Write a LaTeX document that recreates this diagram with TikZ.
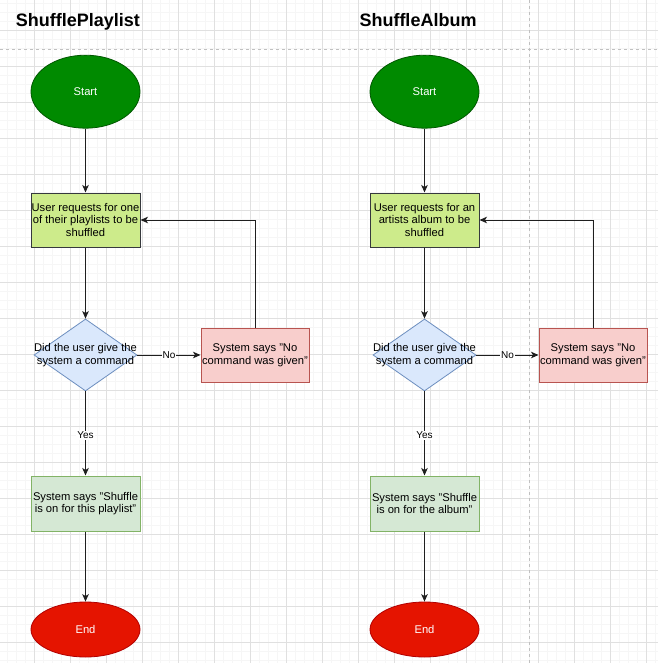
\documentclass[tikz,border=0pt]{standalone}
\usepackage{fontspec}
\setmainfont{Liberation Sans}
\usetikzlibrary{shapes.geometric,arrows.meta}
\definecolor{gridmaj}{HTML}{E0E0E0}
\definecolor{gridmin}{HTML}{F6F6F6}
\definecolor{startfill}{HTML}{008A00}
\definecolor{startline}{HTML}{005700}
\definecolor{endfill}{HTML}{E51400}
\definecolor{endline}{HTML}{B20000}
\definecolor{reqfill}{HTML}{CDEB8B}
\definecolor{reqline}{HTML}{36393D}
\definecolor{decfill}{HTML}{DAE8FC}
\definecolor{decline}{HTML}{6C8EBF}
\definecolor{nofill}{HTML}{F8CECC}
\definecolor{noline}{HTML}{B85450}
\definecolor{okfill}{HTML}{D5E8D4}
\definecolor{okline}{HTML}{82B366}
\definecolor{edgecol}{HTML}{1E1E1E}
\definecolor{dashcol}{HTML}{C0C0C0}
\tikzset{
  boxfont/.style={font=\fontsize{11.2}{12.7}\selectfont},
  startnode/.style={ellipse, fill=startfill, draw=startline, line width=0.8pt,
    minimum width=109pt, minimum height=73pt, inner sep=0pt, text=white, boxfont},
  endnode/.style={ellipse, fill=endfill, draw=endline, line width=0.8pt,
    minimum width=109pt, minimum height=55pt, inner sep=0pt, text=white, boxfont},
  reqbox/.style={rectangle, fill=reqfill, draw=reqline, line width=1pt,
    minimum width=109pt, minimum height=54pt, inner sep=0pt, align=center, boxfont},
  nobox/.style={rectangle, fill=nofill, draw=noline, line width=1pt,
    minimum width=108pt, minimum height=54pt, inner sep=0pt, align=center, boxfont},
  okbox/.style={rectangle, fill=okfill, draw=okline, line width=1pt,
    minimum width=109pt, minimum height=55pt, inner sep=0pt, align=center, boxfont},
  decision/.style={diamond, fill=decfill, draw=decline, line width=0.8pt,
    minimum width=103pt, minimum height=72pt, inner sep=0pt},
  dectext/.style={align=center, inner sep=0pt, boxfont},
  flow/.style={draw=edgecol, line width=1pt, -{Stealth[length=7.5pt,width=6.5pt,inset=2pt]}},
  edgelabel/.style={fill=white, inner sep=1pt, font=\fontsize{10}{12}\selectfont},
  titletext/.style={font=\fontsize{18}{21}\selectfont\bfseries, anchor=base west, inner sep=0pt},
  minorline/.style={draw=gridmin, line width=0.8pt},
  majorline/.style={draw=gridmaj, line width=0.8pt},
  sepline/.style={draw=dashcol, line width=0.9pt, dash pattern=on 3pt off 3pt}
}
\begin{document}
\begin{tikzpicture}[x=1pt,y=-1pt]
\useasboundingbox (0,0) rectangle (658,663);
\fill[white] (0,0) rectangle (658,663);
% grid
\begin{scope}
\clip (0,0) rectangle (658,663);
\foreach \k in {0,...,74} {
  \draw[minorline] ({-1.7+9*\k},0) -- ({-1.7+9*\k},663);
}
\foreach \k in {0,...,75} {
  \draw[minorline] (0,{-5.3+9*\k}) -- (658,{-5.3+9*\k});
}
\foreach \k in {0,...,19} {
  \draw[majorline] ({-1.7+36*\k},0) -- ({-1.7+36*\k},663);
}
\foreach \k in {0,...,19} {
  \draw[majorline] (0,{-5.3+36*\k}) -- (658,{-5.3+36*\k});
}
\end{scope}
% separators
\draw[sepline] (0,49.3) -- (658,49.3);
\draw[sepline] (529.3,0) -- (529.3,663);

% titles
\node[titletext] (t1) at (15.7,26.7) {ShufflePlaylist};
\node[titletext] (t2) at (359.3,26.7) {ShuffleAlbum};

% left flow
\node[startnode] (s1) at (85.5,91.7) {Start};
\node[reqbox] (r1) at (85.5,220) {User requests for one\\of their playlists to be\\shuffled};
\node[decision] (d1) at (85.5,355) {};
\node[dectext] (d1t) at (85.5,355) {Did the user give the\\system a command};
\node[nobox] (n1) at (255,355) {System says "No\\command was given"};
\node[okbox] (o1) at (85.5,503.5) {System says "Shuffle\\is on for this playlist"};
\node[endnode] (e1) at (85.5,629.5) {End};

\draw[flow] (s1) -- (r1);
\draw[flow] (r1) -- (d1);
\draw[flow] (d1) -- node[edgelabel] {No} (n1);
\draw[flow] (n1.north) |- (r1.east);
\draw[flow] (d1) -- node[edgelabel, pos=0.52] {Yes} (o1);
\draw[flow] (o1) -- (e1);

% right flow
\node[startnode] (s2) at (424.5,91.7) {Start};
\node[reqbox] (r2) at (424.5,220) {User requests for an\\artists album to be\\shuffled};
\node[decision] (d2) at (424.5,355) {};
\node[dectext] (d2t) at (424.5,355) {Did the user give the\\system a command};
\node[nobox] (n2) at (593,355) {System says "No\\command was given"};
\node[okbox] (o2) at (424.5,503.5) {System says "Shuffle\\is on for the album"};
\node[endnode] (e2) at (424.5,629.5) {End};

\draw[flow] (s2) -- (r2);
\draw[flow] (r2) -- (d2);
\draw[flow] (d2) -- node[edgelabel] {No} (n2);
\draw[flow] (n2.north) |- (r2.east);
\draw[flow] (d2) -- node[edgelabel, pos=0.52] {Yes} (o2);
\draw[flow] (o2) -- (e2);
\end{tikzpicture}
\end{document}
